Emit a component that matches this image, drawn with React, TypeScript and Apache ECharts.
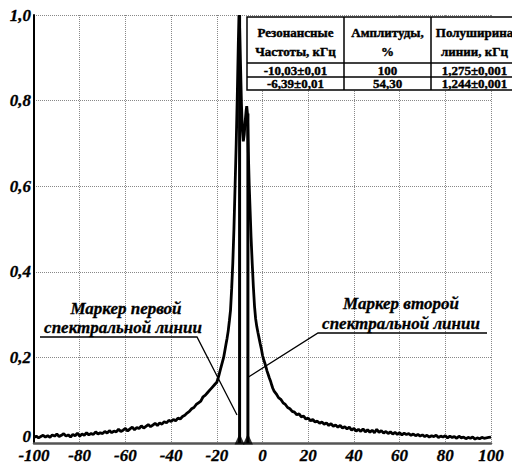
import React, { useEffect, useRef } from "react";
import * as echarts from "echarts";

const specX: number[] = [
  -100, -99, -98, -97, -96, -95, -94, -93, -92, -91, -90, -89, -88, -87, -86, -85, -84, -83, -82, -81,
  -80, -79, -78, -77, -76, -75, -74, -73, -72, -71, -70, -69, -68, -67, -66, -65, -64, -63, -62, -61,
  -60, -59, -58, -57, -56, -55, -54, -53, -52, -51, -50, -49, -48, -47, -46, -45, -44, -43, -42, -41,
  -40, -39, -38, -37, -36, -35, -34, -33, -32, -31, -30, -29, -28, -27, -26, -25, -24, -23, -22, -21,
  -20, -19.5, -19, -18.5, -18, -17.5, -17, -16.5, -16, -15.5, -15, -14.5, -14, -13.5, -13, -12.5, -12, -11.5, -11, -10.6,
  -10.3, -10, -9.6, -9.2, -8.8, -8.4, -8, -7.6, -7.2, -6.9, -6.6, -6.2, -5.8, -5.4, -5, -4.5, -4, -3.5, -3, -2.5,
  -2, -1.5, -1, -0.5, 0, 0.5, 1, 1.5, 2, 2.5, 3, 3.5, 4, 4.5, 5, 6, 7, 8, 9, 10,
  11, 12, 13, 14, 15, 16, 17, 18, 19, 20, 21, 22, 23, 24, 25, 26, 27, 28, 29, 30,
  31, 32, 33, 34, 35, 36, 37, 38, 39, 40, 41, 42, 43, 44, 45, 46, 47, 48, 49, 50,
  51, 52, 53, 54, 55, 56, 57, 58, 59, 60, 61, 62, 63, 64, 65, 66, 67, 68, 69, 70,
  71, 72, 73, 74, 75, 76, 77, 78, 79, 80, 81, 82, 83, 84, 85, 86, 87, 88, 89, 90,
  91, 92, 93, 94, 95, 96, 97, 98, 99, 100,
];

const specY: number[] = [
  0.013, 0.016, 0.012, 0.015, 0.018, 0.014, 0.017, 0.013, 0.019, 0.016, 0.021, 0.015, 0.018, 0.022, 0.016, 0.019, 0.014, 0.02, 0.017, 0.023,
  0.016, 0.021, 0.018, 0.024, 0.019, 0.022, 0.02, 0.026, 0.021, 0.024, 0.022, 0.027, 0.023, 0.029, 0.024, 0.028, 0.026, 0.032, 0.027, 0.03,
  0.034, 0.028, 0.033, 0.037, 0.031, 0.036, 0.034, 0.04, 0.035, 0.039, 0.043, 0.038, 0.042, 0.046, 0.041, 0.047, 0.044, 0.05, 0.047, 0.053,
  0.05, 0.055, 0.052, 0.058, 0.056, 0.062, 0.065, 0.07, 0.074, 0.08, 0.083, 0.09, 0.094, 0.098, 0.108, 0.112, 0.118, 0.124, 0.13, 0.136,
  0.142, 0.15, 0.16, 0.17, 0.18, 0.19, 0.2, 0.215, 0.23, 0.245, 0.262, 0.285, 0.31, 0.36, 0.42, 0.5, 0.6, 0.7, 0.82, 0.93,
  1.0, 0.97, 0.88, 0.79, 0.73, 0.705, 0.72, 0.75, 0.775, 0.787, 0.77, 0.68, 0.6, 0.54, 0.48, 0.42, 0.365, 0.32, 0.29, 0.272,
  0.258, 0.245, 0.232, 0.22, 0.205, 0.195, 0.187, 0.178, 0.168, 0.16, 0.152, 0.145, 0.136, 0.128, 0.122, 0.115, 0.106, 0.102, 0.094, 0.09,
  0.083, 0.08, 0.074, 0.072, 0.066, 0.068, 0.061, 0.063, 0.056, 0.058, 0.052, 0.055, 0.049, 0.051, 0.046, 0.049, 0.044, 0.047, 0.041, 0.045,
  0.039, 0.042, 0.037, 0.041, 0.035, 0.038, 0.033, 0.037, 0.03, 0.034, 0.028, 0.032, 0.027, 0.033, 0.026, 0.031, 0.025, 0.03, 0.024, 0.032,
  0.025, 0.029, 0.023, 0.027, 0.022, 0.026, 0.021, 0.025, 0.02, 0.024, 0.019, 0.023, 0.02, 0.022, 0.018, 0.021, 0.017, 0.02, 0.016, 0.019,
  0.015, 0.018, 0.014, 0.017, 0.015, 0.018, 0.013, 0.016, 0.014, 0.017, 0.012, 0.016, 0.013, 0.015, 0.011, 0.016, 0.012, 0.014, 0.01, 0.013,
  0.011, 0.014, 0.009, 0.012, 0.01, 0.013, 0.011, 0.012, 0.013, 0.014,
];

const markerFreq: number[] = [-10.03, -6.39];
const markerTop: number[] = [1.0, 0.77];

const tableHeader: string[][] = [
  ["Резонансные", "Частоты, кГц"],
  ["Амплитуды,", "%"],
  ["Полуширина", "линии, кГц"],
];
const tableRows: string[][] = [
  ["-10,03±0,01", "100", "1,275±0,001"],
  ["-6,39±0,01", "54,30", "1,244±0,001"],
];

const label1: string[] = ["Маркер первой", "спектральной линии"];
const label2: string[] = ["Маркер второй", "спектральной линии"];

const SERIF = "Liberation Serif";

export default function App() {
  const ref = useRef<HTMLDivElement>(null);
  useEffect(() => {
    if (!ref.current) return;
    const chart = echarts.init(ref.current, null, { renderer: "svg" });

    const tX = [247, 344, 431, 518];
    const tY = [17, 63, 77, 90];
    const graphic: any[] = [];
    graphic.push({
      type: "rect",
      shape: { x: tX[0], y: tY[0], width: tX[3] - tX[0], height: tY[3] - tY[0] },
      style: { fill: "#fff", stroke: "#000", lineWidth: 1.5 },
      z: 100,
    });
    [tY[1], tY[2]].forEach((y) =>
      graphic.push({
        type: "line",
        shape: { x1: tX[0], y1: y, x2: tX[3], y2: y },
        style: { stroke: "#000", lineWidth: 1.5 },
        z: 101,
      })
    );
    [tX[1], tX[2]].forEach((x) =>
      graphic.push({
        type: "line",
        shape: { x1: x, y1: tY[0], x2: x, y2: tY[3] },
        style: { stroke: "#000", lineWidth: 1.5 },
        z: 101,
      })
    );
    const cellText = (text: string, x: number, y: number) => ({
      type: "text",
      x,
      y,
      style: {
        text,
        fontFamily: SERIF,
        fontSize: 13,
        fontWeight: "bold",
        fill: "#000",
        stroke: "#000",
        lineWidth: 0.4,
        align: "center",
        verticalAlign: "middle",
      },
      z: 102,
    });
    tableHeader.forEach((lines, c) => {
      const cx = (tX[c] + tX[c + 1]) / 2;
      graphic.push(cellText(lines[0], cx, 32));
      graphic.push(cellText(lines[1], cx, 51));
    });
    tableRows.forEach((row, r) => {
      const cy = (tY[r + 1] + tY[r + 2]) / 2;
      row.forEach((t, c) => graphic.push(cellText(t, (tX[c] + tX[c + 1]) / 2, cy)));
    });

    const annText = (text: string, x: number, y: number) => ({
      type: "text",
      x,
      y,
      style: {
        text,
        fontFamily: SERIF,
        fontSize: 17,
        fontStyle: "italic",
        fontWeight: "bold",
        fill: "#000",
        stroke: "#000",
        lineWidth: 0.3,
        align: "center",
        verticalAlign: "middle",
      },
      z: 50,
    });
    graphic.push(annText(label1[0], 126, 308));
    graphic.push(annText(label1[1], 123, 327));
    graphic.push(annText(label2[0], 401, 303));
    graphic.push(annText(label2[1], 401, 323));
    graphic.push({
      type: "polyline",
      shape: { points: [[40, 337], [197, 337], [237, 415]] },
      style: { stroke: "#000", lineWidth: 1.3, fill: null },
      z: 50,
    });
    graphic.push({
      type: "polyline",
      shape: { points: [[487, 333], [318, 333], [248.5, 377]] },
      style: { stroke: "#000", lineWidth: 1.3, fill: null },
      z: 50,
    });

    const markerSeries = markerFreq.map((f, i) => ({
      type: "line",
      data: [
        [f, 0],
        [f, markerTop[i]],
      ],
      symbol: "none",
      lineStyle: { color: "#000", width: 3 },
      z: 4,
    }));

    const axisFont = {
      color: "#000",
      fontFamily: SERIF,
      fontSize: 17,
      fontStyle: "italic" as const,
      fontWeight: "bold" as const,
      textBorderColor: "#000",
      textBorderWidth: 0.3,
    };

    chart.setOption({
      animation: false,
      backgroundColor: "#fff",
      grid: { left: 34, right: 29, top: 15, bottom: 27 },
      xAxis: {
        type: "value",
        min: -100,
        max: 100,
        interval: 20,
        axisLine: { show: true, onZero: false, lineStyle: { color: "#555", width: 2.5 } },
        axisTick: { show: false },
        axisLabel: { ...axisFont, margin: 4 },
        splitLine: { show: true, lineStyle: { color: "#888", type: [1, 1], width: 1 } },
      },
      yAxis: {
        type: "value",
        min: 0,
        max: 1,
        interval: 0.2,
        axisLine: { show: true, onZero: false, lineStyle: { color: "#000", width: 2 } },
        axisTick: { show: false },
        axisLabel: {
          ...axisFont,
          margin: 3,
          formatter: (v: number) => (v === 0 ? "{z|0}" : v.toFixed(1).replace(".", ",")),
          rich: {
            z: { ...axisFont, padding: [0, 0, 14, 0] },
          },
        },
        splitLine: { show: true, lineStyle: { color: "#888", type: [1, 1], width: 1 } },
      },
      series: [
        {
          type: "line",
          data: specX.map((x, i) => [x, specY[i]]),
          symbol: "none",
          lineStyle: { color: "#000", width: 2.8 },
          z: 3,
        },
        ...markerSeries,
        {
          type: "scatter",
          data: markerFreq.map((f) => [f, 0]),
          symbol: "triangle",
          symbolSize: [10, 11],
          symbolOffset: [0, -4],
          itemStyle: { color: "#000" },
          z: 5,
        },
      ],
      graphic,
    });
    return () => chart.dispose();
  }, []);
  return <div ref={ref} style={{ width: 520, height: 470, marginLeft: -8, marginTop: -8 }} />;
}
